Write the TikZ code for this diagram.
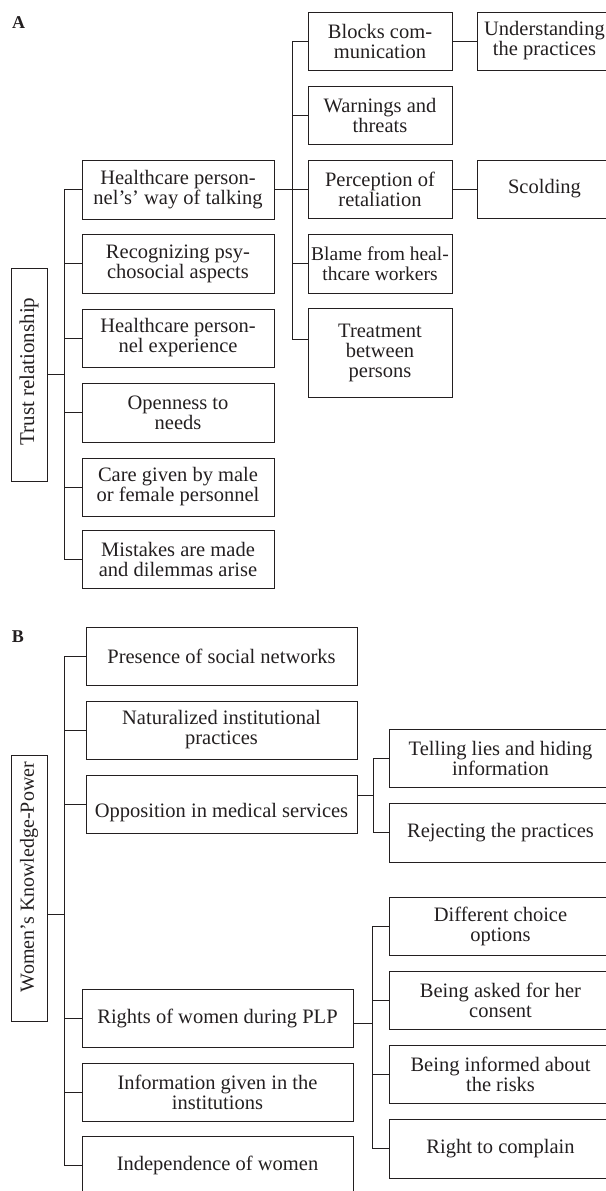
\documentclass[tikz,border=0pt]{standalone}
\usepackage{fontspec}
\usepackage{graphicx}
\setmainfont{Liberation Serif}
\definecolor{ink}{HTML}{231F20}
\begin{document}
\begin{tikzpicture}[x=1bp,y=-1bp,
  box/.style={draw=ink, text=ink, line width=0.9bp, align=center, inner sep=0pt,
    font=\fontsize{20.5bp}{20bp}\selectfont},
  link/.style={draw=ink, line width=0.9bp},
  panlabel/.style={text=ink, inner sep=0pt, anchor=base}]
\path[use as bounding box, clip] (0,0) rectangle (606,1191);

% ---------------- Panel A ----------------
\node[panlabel] (labA) at (18.5,28.5) {\fontsize{18bp}{18bp}\selectfont\bfseries A};
\node[box, minimum width=36bp, minimum height=213bp] (trust) at (29,374.5) {\rotatebox{90}{\hspace*{6bp}\fontsize{21bp}{21bp}\selectfont Trust relationship}};

\node[box, minimum width=192bp, minimum height=59bp] (hc1) at (178,189.5) {Healthcare person-\\nel’s’ way of talking};
\node[box, minimum width=192bp, minimum height=59bp] (rec) at (178,263.5) {Recognizing psy-\\chosocial aspects};
\node[box, minimum width=192bp, minimum height=58bp] (exp) at (178,338) {Healthcare person-\\nel experience};
\node[box, minimum width=192bp, minimum height=59bp] (open) at (178,412.5) {Openness to\\needs};
\node[box, minimum width=192bp, minimum height=58bp] (care) at (178,487) {Care given by male\\or female personnel};
\node[box, minimum width=192bp, minimum height=58bp] (mist) at (178,559) {Mistakes are made\\and dilemmas arise};

\node[box, minimum width=144bp, minimum height=58bp] (blocks) at (380,41) {Blocks com-\\munication};
\node[box, minimum width=144bp, minimum height=58bp] (warn) at (380,115) {Warnings and\\threats};
\node[box, minimum width=144bp, minimum height=58bp] (perc) at (380,189) {Perception of\\retaliation};
\node[box, minimum width=144bp, minimum height=59bp] (blame) at (380,263.5) {\fontsize{19.5bp}{20bp}\selectfont Blame from heal-\\\fontsize{19.5bp}{20bp}\selectfont thcare workers};
\node[box, minimum width=144bp, minimum height=89bp] (treat) at (380,352.5) {Treatment\\between\\persons};

\node[box, minimum width=135bp, minimum height=58bp] (under) at (544.5,41) {Understanding\\the practices};
\node[box, minimum width=135bp, minimum height=58bp] (scold) at (544.5,189) {Scolding};

\coordinate (busA) at (64,0);
\coordinate (busA2) at (292,0);
\coordinate (treatc) at ([yshift=13.5bp]treat.west);

\draw[link] (trust.east) -- (trust.east -| busA);
\draw[link] (hc1.west -| busA) -- (mist.west -| busA);
\foreach \n in {hc1,rec,exp,open,care,mist}{\draw[link] (\n.west) -- (\n.west -| busA);}
\draw[link] (hc1.east) -- (hc1.east -| busA2);
\draw[link] (blocks.west -| busA2) -- (treatc -| busA2);
\foreach \n in {blocks,warn,perc,blame}{\draw[link] (\n.west) -- (\n.west -| busA2);}
\draw[link] (treatc) -- (treatc -| busA2);
\draw[link] (blocks.east) -- (under.west);
\draw[link] (perc.east) -- (scold.west);

% ---------------- Panel B ----------------
\node[panlabel] (labB) at (18,642) {\fontsize{18bp}{18bp}\selectfont\bfseries B};
\node[box, minimum width=36bp, minimum height=266bp] (women) at (29,888) {\rotatebox{90}{\hspace*{22bp}\fontsize{20bp}{20bp}\selectfont Women’s Knowledge-Power}};

\node[box, minimum width=271bp, minimum height=58bp] (presence) at (221.5,656) {Presence of social networks};
\node[box, minimum width=271bp, minimum height=58bp] (natur) at (221.5,730) {Naturalized institutional\\practices};
\node[box, minimum width=271bp, minimum height=58bp, text height=26bp, text depth=0bp] (oppo) at (221.5,804) {Opposition in medical services};
\node[box, minimum width=271bp, minimum height=58bp] (rights) at (217.5,1018) {Rights of women during PLP};
\node[box, minimum width=271bp, minimum height=58bp] (info) at (217.5,1092) {Information given in the\\institutions};
\node[box, minimum width=271bp, minimum height=58bp] (indep) at (217.5,1165) {Independence of women};

\node[box, minimum width=223bp, minimum height=58bp] (telling) at (500.5,758) {Telling lies and hiding\\information};
\node[box, minimum width=223bp, minimum height=59bp] (reject) at (500.5,832.5) {Rejecting the practices};
\node[box, minimum width=223bp, minimum height=58bp] (diff) at (500.5,926) {Different choice\\options};
\node[box, minimum width=223bp, minimum height=58bp] (asked) at (500.5,1000) {Being asked for her\\consent};
\node[box, minimum width=223bp, minimum height=58bp] (informed) at (500.5,1074) {Being informed about\\the risks};
\node[box, minimum width=223bp, minimum height=59bp] (rightc) at (500.5,1148.5) {Right to complain};

\coordinate (busB) at (64,0);
\coordinate (busB2) at (373,0);
\coordinate (busB3) at (372,0);
\coordinate (womenc) at ([yshift=-26bp]women.east);
\coordinate (oppoc) at ([yshift=9bp]oppo.east);
\coordinate (rightsc) at ([yshift=-5bp]rights.east);

\draw[link] (womenc) -- (womenc -| busB);
\draw[link] (presence.west -| busB) -- (indep.west -| busB);
\foreach \n in {presence,natur,oppo,rights,info,indep}{\draw[link] (\n.west) -- (\n.west -| busB);}
\draw[link] (oppoc) -- (oppoc -| busB2);
\draw[link] (telling.west -| busB2) -- (reject.west -| busB2);
\foreach \n in {telling,reject}{\draw[link] (\n.west) -- (\n.west -| busB2);}
\draw[link] (rightsc) -- (rightsc -| busB3);
\draw[link] (diff.west -| busB3) -- (rightc.west -| busB3);
\foreach \n in {diff,asked,informed,rightc}{\draw[link] (\n.west) -- (\n.west -| busB3);}
\end{tikzpicture}
\end{document}
